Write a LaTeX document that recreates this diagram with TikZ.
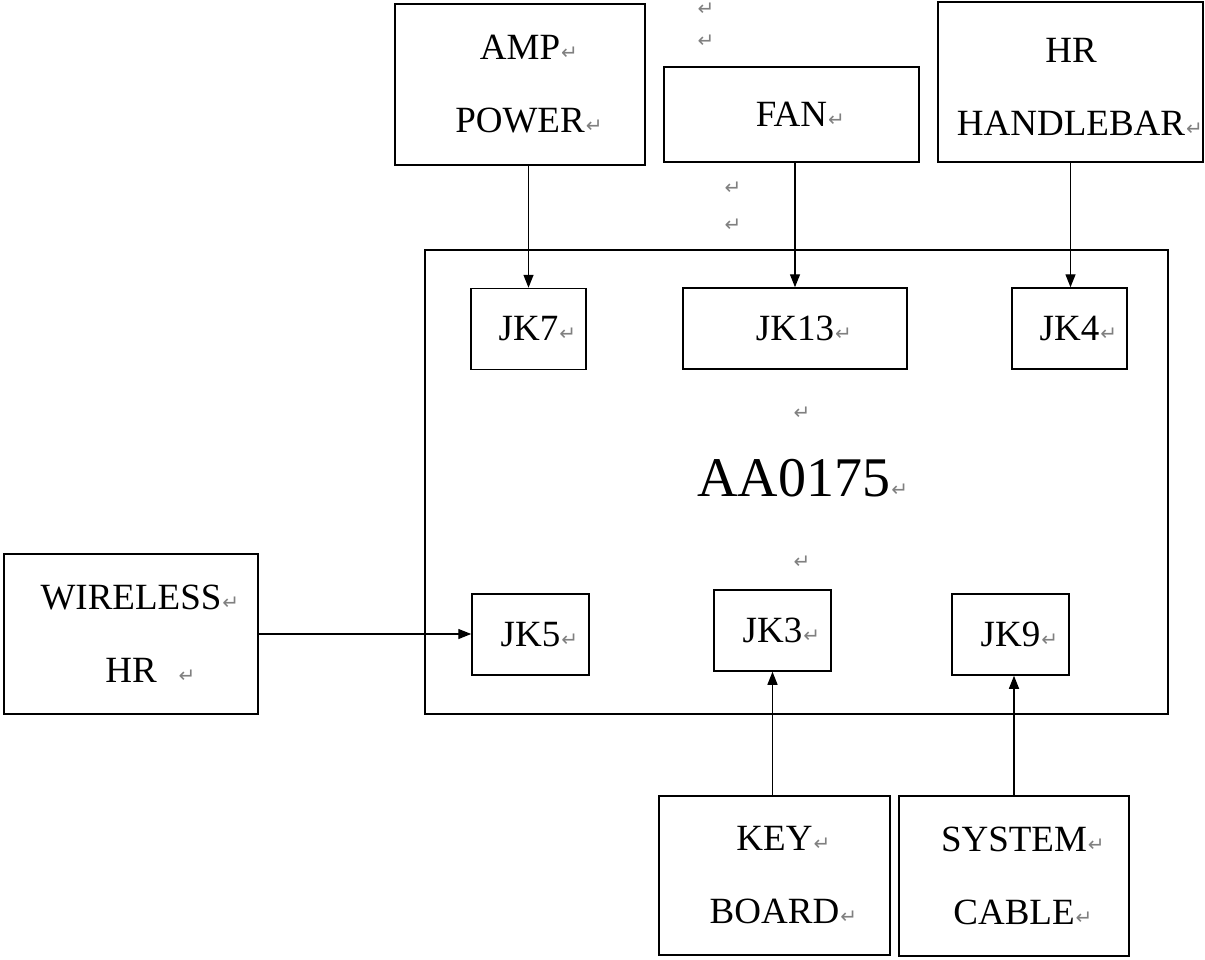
\documentclass[tikz,border=0pt]{standalone}
\usepackage{fontspec}
\setmainfont{Liberation Serif}
\newfontfamily\symfont{DejaVu Sans}
\usetikzlibrary{arrows.meta}
\newcommand\pmk{\rlap{\kern1pt\symfont\fontsize{20}{20}\selectfont\color{gray}↵}}
\tikzset{
  blk/.style={draw, line width=1.5pt, inner sep=0pt, align=center,
    font=\fontsize{37}{73}\selectfont},
  jack/.style={draw, line width=1.5pt, inner sep=0pt, minimum width=115pt, minimum height=81pt,
    font=\fontsize{37}{40}\selectfont},
  arr/.style={line width=1.4pt, -{Triangle[length=13pt,width=10pt]}},
  pm/.style={inner sep=0pt, font=\symfont\fontsize{20}{20}\selectfont, text=gray}
}
\begin{document}
\begin{tikzpicture}[x=1pt,y=-1pt]
\useasboundingbox (0,0) rectangle (1205,959);
% top boxes
\node[blk, minimum width=250pt, minimum height=161pt] (amp) at (520,84.5) {AMP\pmk\\POWER\pmk};
\node[blk, minimum width=255pt, minimum height=95pt] (fan) at (791.5,114.5) {FAN\pmk};
\node[blk, minimum width=265pt, minimum height=160pt] (hr) at (1070.5,82) {};
\node[inner sep=0pt, align=center, font=\fontsize{37}{73}\selectfont] (hrt) at (1071,87) {HR\\HANDLEBAR\pmk};
% main board
\node[draw, line width=1.5pt, minimum width=743pt, minimum height=464pt] (main) at (796.5,482) {};
\node[inner sep=0pt, font=\fontsize{56}{60}\selectfont] (aa) at (794,478) {AA0175\pmk};
\node[pm] (m1) at (802,413) {↵};
\node[pm] (m2) at (802,562) {↵};
% jacks
\node[jack] (jk7) at (528.5,329) {JK7\pmk};
\node[jack, minimum width=224pt] (jk13) at (795,328.5) {JK13\pmk};
\node[jack] (jk4) at (1069.5,328.5) {JK4\pmk};
\node[jack, minimum width=117pt] (jk5) at (530.5,634.5) {JK5\pmk};
\node[jack, minimum width=117pt] (jk3) at (772.5,630.5) {JK3\pmk};
\node[jack, minimum width=117pt] (jk9) at (1010.5,634.5) {JK9\pmk};
% side / bottom boxes
\node[blk, minimum width=254pt, minimum height=160pt] (wl) at (131,634) {WIRELESS\pmk\\HR\rlap{\kern22pt\symfont\fontsize{20}{20}\selectfont\color{gray}↵}};
\node[blk, minimum width=231pt, minimum height=159pt] (key) at (774.5,875.5) {KEY\pmk\\BOARD\pmk};
\node[blk, minimum width=230pt, minimum height=160pt] (sys) at (1014,876) {SYSTEM\pmk\\CABLE\pmk};
% stray paragraph marks
\node[pm] (p1) at (706,9) {↵};
\node[pm] (p2) at (706,41) {↵};
\node[pm] (p3) at (733,188) {↵};
\node[pm] (p4) at (733,225) {↵};
% connectors
\draw[arr] (amp.south -| jk7.north) -- (jk7.north);
\draw[arr] (fan.south -| jk13.north) -- (jk13.north);
\draw[arr] (hr.south) -- (hr.south |- jk4.north);
\draw[arr] (wl.east) -- (wl.east -| jk5.west);
\draw[arr] (key.north -| jk3.south) -- (jk3.south);
\draw[arr] (sys.north) -- (sys.north |- jk9.south);
\end{tikzpicture}
\end{document}
